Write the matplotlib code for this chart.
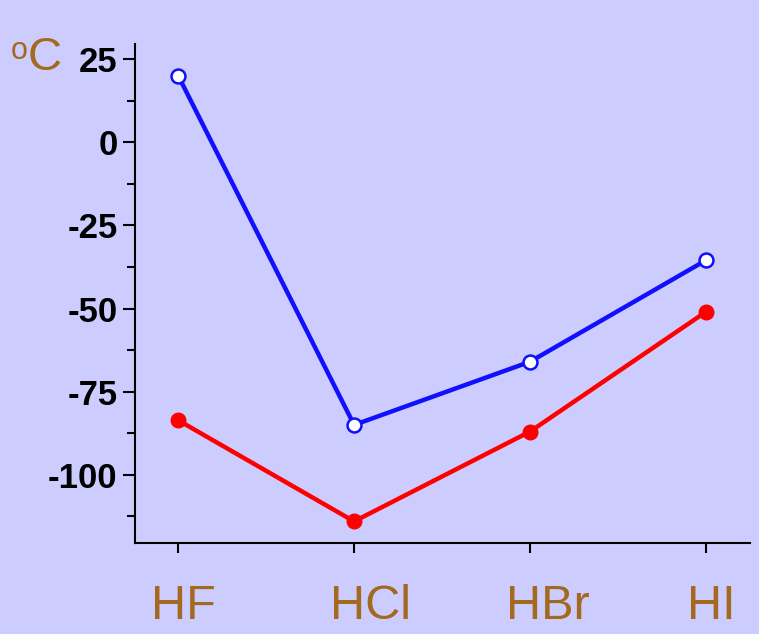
import matplotlib.pyplot as plt
from matplotlib.ticker import MultipleLocator
from matplotlib.transforms import ScaledTranslation

# hydrogen halides: boiling and melting points in degrees C
compounds = ["HF", "HCl", "HBr", "HI"]
boiling = [20, -85, -66, -35.5]
melting = [-83.6, -114, -87, -51]
yticks = [25, 0, -25, -50, -75, -100]

bg = "#ccccff"
brown = "#a3691f"

plt.rcParams["font.family"] = ["Liberation Sans", "DejaVu Sans"]

fig = plt.figure(figsize=(7.59, 6.34), dpi=100, facecolor=bg)
ax = fig.add_axes([0.178, 0.1435, 0.81, 0.787])
ax.set_facecolor(bg)

x = list(range(len(compounds)))
ax.plot(x, boiling, color="#1010ff", lw=3.2, marker="o", ms=10,
        mfc="white", mec="#1010ff", mew=1.8, zorder=3)
ax.plot(x, melting, color="#ff0000", lw=3.2, marker="o", ms=10.5,
        mfc="#ff0000", mec="#ff0000", zorder=3)

ax.set_xlim(-0.245, 3.25)
ax.set_ylim(-120.5, 29.5)

ax.set_xticks(x)
ax.set_xticklabels(compounds, fontsize=35, color=brown)
ax.set_yticks(yticks)
ax.set_yticklabels([str(v) for v in yticks], fontsize=25, fontweight="bold")
ax.yaxis.set_minor_locator(MultipleLocator(12.5))

for side in ("top", "right"):
    ax.spines[side].set_visible(False)
for side in ("left", "bottom"):
    ax.spines[side].set_linewidth(1.5)

ax.tick_params(axis="y", which="major", length=8.6, width=1.5, pad=4)
ax.tick_params(axis="y", which="minor", length=5.8, width=1.5)
ax.tick_params(axis="x", which="major", length=7.5, width=1.5, pad=22)

# the category labels sit a little right of their ticks
shifts = [5, 16, 18, 5]
for lab, dx in zip(ax.get_xticklabels(), shifts):
    lab.set_transform(lab.get_transform() + ScaledTranslation(dx / 100, 0, fig.dpi_scale_trans))

# unit label in the top-left corner
fig.text(11 / 759, 1 - 51 / 634, "o", fontsize=22, color=brown, va="center")
fig.text(28 / 759, 1 - 58 / 634, "C", fontsize=34, color=brown, va="center")

fig.savefig("out.png", dpi=100, facecolor=bg)
